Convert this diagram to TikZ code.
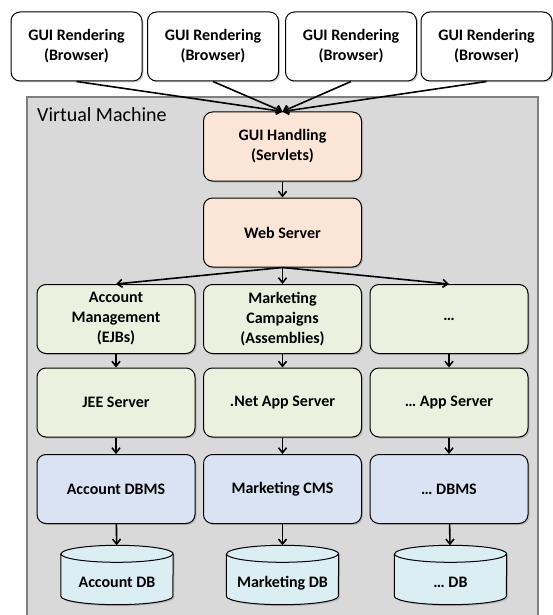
\documentclass[tikz,border=0pt]{standalone}
\usepackage{fontspec}
\setmainfont{Carlito}
\usetikzlibrary{positioning,arrows.meta,calc,shadows}

\pgfdeclarelayer{vmlayer}
\pgfdeclarelayer{cyllayer}
\pgfsetlayers{vmlayer,cyllayer,main}

\definecolor{guipeach}{HTML}{FBE5D6}
\definecolor{appgreen}{HTML}{EBF1DE}
\definecolor{dbmsblue}{HTML}{DAE3F3}
\definecolor{dbcyan}{HTML}{DBEEF4}
\definecolor{vmgray}{HTML}{D9D9D9}
\definecolor{vmborder}{HTML}{7F7F7F}

% cylinder drawn round a named db node
\newcommand{\dbcyl}[1]{%
  \draw[dbbody] ($(#1.north west)+(0,8.5)$) -- ($(#1.south west)+(0,-8.5)$)
    arc[start angle=180, end angle=0, x radius=56, y radius=8.5]
    -- ($(#1.north east)+(0,8.5)$)
    arc[start angle=0, end angle=-180, x radius=56, y radius=8.5] -- cycle;
  \draw[line width=1pt] ($(#1.north west)+(0,8.5)$)
    arc[start angle=180, end angle=0, x radius=56, y radius=8.5];%
}

\begin{document}
\begin{tikzpicture}[
  x=1pt, y=-1pt,
  box/.style={
    rectangle, rounded corners=9pt, draw=black, line width=1pt,
    align=center, font=\fontsize{16}{20}\selectfont\bfseries,
    drop shadow={shadow xshift=1.5pt, shadow yshift=-1.5pt, opacity=0.35}
  },
  browser/.style={box, fill=white, minimum width=131pt, minimum height=69pt},
  gui/.style={box, fill=guipeach, minimum width=158pt, minimum height=69pt},
  app/.style={box, fill=appgreen, minimum width=158pt, minimum height=69pt},
  dbms/.style={box, fill=dbmsblue, minimum width=158pt, minimum height=69pt},
  db/.style={
    rectangle, minimum width=112pt, minimum height=59pt, inner sep=0pt,
    text height=25pt, text depth=0pt, font=\fontsize{16}{20}\selectfont\bfseries
  },
  dbbody/.style={
    draw=black, line width=1pt, fill=dbcyan,
    drop shadow={shadow xshift=1.5pt, shadow yshift=-1.5pt, opacity=0.35}
  },
  arrow/.style={-{Straight Barb[length=5pt, width=8pt]}, line width=1.6pt, black}
]

\useasboundingbox (0,0) rectangle (552,615);

% === Virtual machine container ===
\begin{pgfonlayer}{vmlayer}
\node[rectangle, draw=vmborder, fill=vmgray, line width=2pt,
  minimum width=511pt, minimum height=530pt] (vm) at (282.5,362) {};
\end{pgfonlayer}
\node[anchor=base west, font=\fontsize{20}{24}\selectfont, inner sep=0pt]
  (vmlabel) at (37,121.5) {Virtual Machine};

% === Browsers ===
\node[browser] (br1) at (76.5,46.5) {GUI Rendering\\(Browser)};
\node[browser] (br2) at (213,46.5) {GUI Rendering\\(Browser)};
\node[browser] (br3) at (351,46.5) {GUI Rendering\\(Browser)};
\node[browser] (br4) at (486.5,46.5) {GUI Rendering\\(Browser)};

% === Front tier ===
\node[gui] (servlets) at (282.5,146.5) {GUI Handling\\(Servlets)};
\node[gui] (web) at (282.5,232.5) {Web Server};

% === Application components ===
\node[app] (ejb) at (116,319) {Account\\Management\\(EJBs)};
\node[app] (asm) at (282.5,319) {Marketing\\Campaigns\\(Assemblies)};
\node[app] (more) at (449,319) {\dots};

% === Application servers ===
\node[app] (jee) at (116,402.5) {JEE Server};
\node[app] (dotnet) at (282.5,402.5) {.Net App Server};
\node[app] (moresrv) at (449,402.5) {\dots{} App Server};

% === DBMS ===
\node[dbms] (accdbms) at (116,489) {Account DBMS};
\node[dbms] (mktcms) at (282.5,489) {Marketing CMS};
\node[dbms] (moredbms) at (449,489) {\dots{} DBMS};

% === Databases ===
\node[db] (accdb) at (117,575) {Account DB};
\node[db] (mktdb) at (282.5,575) {Marketing DB};
\node[db] (moredb) at (450.5,575) {\dots{} DB};

\begin{pgfonlayer}{cyllayer}
\foreach \d in {accdb,mktdb,moredb}{\dbcyl{\d}}
\end{pgfonlayer}

% === Connectors ===
\foreach \b in {br1,br2,br3,br4}
  \draw[arrow] (\b.south) -- (servlets.north);
\draw[arrow] (servlets) -- (web);
\foreach \c in {ejb,asm,more}
  \draw[arrow] (web.south) -- (\c.north);
\draw[arrow] (ejb) -- (jee);
\draw[arrow] (asm) -- (dotnet);
\draw[arrow] (more) -- (moresrv);
\draw[arrow] (jee) -- (accdbms);
\draw[arrow] (dotnet) -- (mktcms);
\draw[arrow] (moresrv) -- (moredbms);
\draw[arrow] (accdbms) -- (accdb);
\draw[arrow] (mktcms) -- (mktdb);
\draw[arrow] (moredbms) -- (moredb);

\end{tikzpicture}
\end{document}
